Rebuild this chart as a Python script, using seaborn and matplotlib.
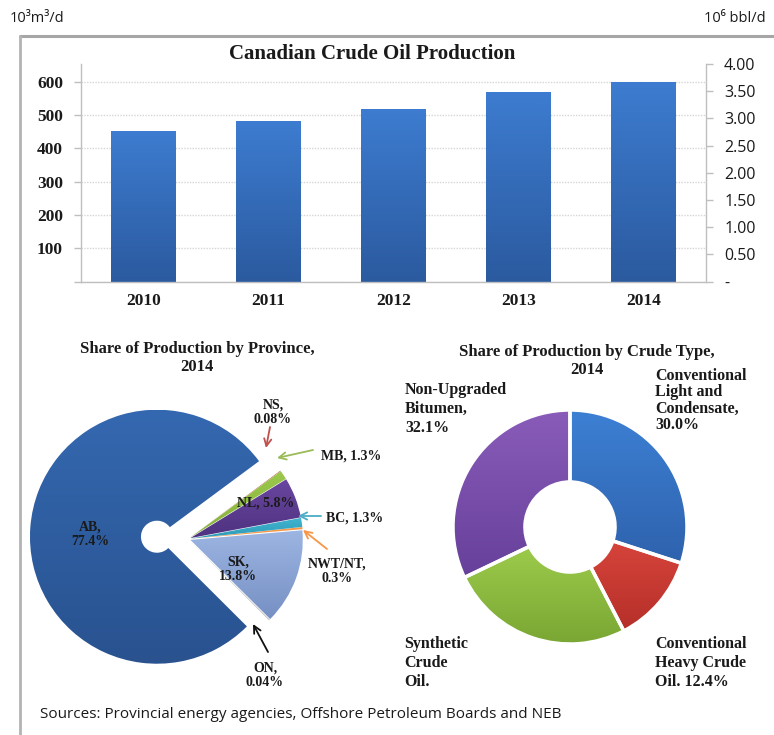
import numpy as np
import pandas as pd
import matplotlib
matplotlib.use("Agg")
import matplotlib.pyplot as plt
import seaborn as sns
from matplotlib.lines import Line2D
from matplotlib.colors import LinearSegmentedColormap

# ---------------- data ----------------
years = ["2010", "2011", "2012", "2013", "2014"]
production = [451, 482, 517, 568, 598]          # 10^3 m3/d
left_ticks = [0, 100, 200, 300, 400, 500, 600]
left_tick_labels = ["", "100", "200", "300", "400", "500", "600"]
right_ticks = [0, 0.5, 1.0, 1.5, 2.0, 2.5, 3.0, 3.5, 4.0]
right_tick_labels = ["-", "0.50", "1.00", "1.50", "2.00", "2.50", "3.00", "3.50", "4.00"]

provinces = ["AB", "ON", "SK", "NWT/NT", "BC", "NL", "MB", "NS"]
province_share = [77.4, 0.04, 13.8, 0.3, 1.3, 5.8, 1.3, 0.08]
province_labels = ["AB,\n77.4%", "ON,\n0.04%", "SK,\n13.8%", "NWT/NT,\n0.3%",
                   "BC, 1.3%", "NL, 5.8%", "MB, 1.3%", "NS,\n0.08%"]

crude_types = ["Conventional Light and Condensate", "Conventional Heavy Crude Oil",
               "Synthetic Crude Oil", "Non-Upgraded Bitumen"]
crude_share = [30.0, 12.4, 25.5, 32.1]
crude_labels = ["Conventional\nLight and\nCondensate,\n30.0%",
                "Conventional\nHeavy Crude\nOil. 12.4%",
                "Synthetic\nCrude\nOil.",
                "Non-Upgraded\nBitumen,\n32.1%"]

# ---------------- style ----------------
sns.set_style("white")
plt.rcParams["font.family"] = ["Liberation Serif", "DejaVu Serif"]
SERIF = ["Liberation Serif", "DejaVu Serif"]
SANS = ["Open Sans", "DejaVu Sans"]
TXT = "#1a1a1a"
GREY = "#bfbfbf"

W, H = 774, 735
fig = plt.figure(figsize=(W / 100, H / 100), dpi=100)
fig.patch.set_facecolor("white")


def fx(x):
    return x / W


def fy(y):
    return 1 - y / H


def gradient_fill(ax, patch, top, bottom):
    cmap = LinearSegmentedColormap.from_list("g", [bottom, top])
    path = patch.get_patch_transform().transform_path(patch.get_path())
    bb = path.get_extents()
    grad = np.linspace(1, 0, 256).reshape(-1, 1)
    im = ax.imshow(grad, cmap=cmap, extent=(bb.x0, bb.x1, bb.y0, bb.y1),
                   origin="upper", aspect="auto", interpolation="bicubic",
                   zorder=patch.get_zorder() + 0.01)
    im.set_clip_path(patch)
    patch.set_facecolor("none")
    patch.set_zorder(patch.get_zorder() + 0.02)


# ---------------- frame lines ----------------
fig.add_artist(Line2D([fx(20), 1], [fy(36), fy(36)], color="#a6a6a6", lw=2.2))
fig.add_artist(Line2D([fx(20), fx(20)], [fy(36), 0], color="#b3b3b3", lw=2.0))

# ---------------- bar chart ----------------
ax = fig.add_axes([fx(81), fy(281.7), fx(706) - fx(81), fy(64) - fy(281.7)])
df = pd.DataFrame({"year": years, "production": production})
sns.barplot(data=df, x="year", y="production", color="#3570bd", width=0.52,
            saturation=1, ax=ax, edgecolor="none")
for p in list(ax.patches):
    gradient_fill(ax, p, "#3d7cd0", "#2b5a9f")
ax.set_xlim(-0.5, 4.5)
ax.set_ylim(0, 653)
ax.set_xlabel("")
ax.set_ylabel("")
ax.set_yticks(left_ticks)
ax.set_yticklabels(left_tick_labels, fontfamily=SERIF, fontweight="bold",
                   fontsize=12.5, color=TXT)
ax.set_xticks(range(len(years)))
ax.set_xticklabels(years, fontfamily=SERIF, fontweight="bold", fontsize=12.5, color=TXT)
ax.set_xticks(np.arange(-0.5, len(years), 1.0), minor=True)
ax.tick_params(axis="x", which="major", length=0, pad=8)
ax.tick_params(axis="x", which="minor", length=5, color=GREY, width=1, direction="out")
ax.tick_params(axis="y", length=5, color=GREY, width=1, direction="out", pad=8)
ax.yaxis.grid(True, color="#d6d6d6", linestyle=(0, (1, 1)), linewidth=1)
ax.set_axisbelow(True)
for s in ["top", "right"]:
    ax.spines[s].set_visible(False)
for s in ["left", "bottom"]:
    ax.spines[s].set_color(GREY)
    ax.spines[s].set_linewidth(1)

tw = ax.twinx()
tw.set_ylim(0, 4.0)
tw.set_yticks(right_ticks)
tw.set_yticklabels(right_tick_labels, fontfamily=SANS, fontsize=11.5, color=TXT)
tw.tick_params(axis="y", length=5, color=GREY, width=1, direction="out", pad=8)
for s in ["top", "left", "bottom"]:
    tw.spines[s].set_visible(False)
tw.spines["right"].set_color(GREY)
tw.spines["right"].set_linewidth(1)

fig.text(fx(372), fy(54), "Canadian Crude Oil Production", ha="center", va="center",
         fontfamily=SERIF, fontweight="bold", fontsize=15, color=TXT)
fig.text(fx(10), fy(18), "10³m³/d", ha="left", va="center", fontfamily=SANS,
         fontsize=10.5, color=TXT)
fig.text(fx(766), fy(18), "10⁶ bbl/d", ha="right", va="center", fontfamily=SANS,
         fontsize=10.5, color=TXT)

# ---------------- province pie ----------------
R1 = 127.0
cx1, cy1 = 188, 539
axp = fig.add_axes([fx(20), fy(700), fx(370) - fx(20), fy(385) - fy(700)])
prov_colors = ["#2d5fa6", "#222222", "#8aa5d6", "#f79646", "#31a9c6", "#5b3a8e",
               "#8fbc3f", "#c0504d"]
prov_grad = {"AB": ("#3468b0", "#29528f"), "SK": ("#9cb5e2", "#7690c4"),
             "NL": ("#6a46a0", "#4e3280"), "MB": ("#9cc84c", "#84b03a"),
             "BC": ("#40b4d0", "#2d9ab6")}
explode = [0.245, 0.02, 0.02, 0.02, 0.02, 0.02, 0.02, 0.02]
wedges, _ = axp.pie(province_share, colors=prov_colors, startangle=36.5,
                    counterclock=True, explode=explode,
                    wedgeprops=dict(linewidth=0))
for name, w in zip(provinces, wedges):
    if name == "AB":
        w.set_width(1 - 16 / R1)
    else:
        w.set_radius(0.885)
for name, w in zip(provinces, wedges):
    if name in prov_grad:
        gradient_fill(axp, w, *prov_grad[name])
axp.set_xlim((20 - cx1) / R1, (370 - cx1) / R1)
axp.set_ylim((cy1 - 700) / R1, (cy1 - 385) / R1)
axp.set_aspect("auto")
axp.axis("off")


def d1(x, y):
    return ((x - cx1) / R1, (cy1 - y) / R1)


lab_pos = {"AB": (90, 534), "SK": (238, 569), "NL": (266, 503), "NS": (273, 412),
           "MB": (351, 456), "BC": (355, 518), "NWT/NT": (337, 571), "ON": (265, 675)}
for name, lab in zip(provinces, province_labels):
    axp.text(*d1(*lab_pos[name]), lab, ha="center", va="center", fontfamily=SERIF,
             fontweight="bold", fontsize=10, color=TXT, linespacing=1.15, zorder=10)

arrows = {"NS": ((270, 427), (266, 448), "#c0504d"),
          "MB": ((313, 450), (277, 458), "#9bbb59"),
          "BC": ((321, 516), (298, 516), "#4bacc6"),
          "NWT/NT": ((327, 549), (303, 530), "#f79646"),
          "ON": ((268, 652), (253, 624), "#111111")}
for name, (tail, tip, c) in arrows.items():
    axp.annotate("", xy=d1(*tip), xytext=d1(*tail),
                 arrowprops=dict(arrowstyle="->", color=c, lw=1.3, mutation_scale=13,
                                 shrinkA=0, shrinkB=0), zorder=10)

fig.text(fx(197), fy(358), "Share of Production by Province,\n2014", ha="center",
         va="center", fontfamily=SERIF, fontweight="bold", fontsize=12, color=TXT)

# ---------------- crude type donut ----------------
R2 = 117.0
cx2, cy2 = 570, 527
axd = fig.add_axes([fx(390), fy(700), 1 - fx(390), fy(385) - fy(700)])
crude_colors = ["#3674c4", "#c93a32", "#8cbb40", "#7a4faa"]
crude_grad = [("#3d80d4", "#2e62ad"), ("#d6443b", "#b52f29"),
              ("#9ccb4b", "#7aa633"), ("#8a5cba", "#66409a")]
dw, _ = axd.pie(crude_share, colors=crude_colors, startangle=90, counterclock=False,
                wedgeprops=dict(width=0.615, edgecolor="white", linewidth=2.5))
for w, g in zip(dw, crude_grad):
    gradient_fill(axd, w, *g)
axd.set_xlim((390 - cx2) / R2, (W - cx2) / R2)
axd.set_ylim((cy2 - 700) / R2, (cy2 - 385) / R2)
axd.set_aspect("auto")
axd.axis("off")


def d2(x, y):
    return ((x - cx2) / R2, (cy2 - y) / R2)


crude_pos = [(655, 400.5, 1.02), (655, 663, 1.25), (404, 663, 1.28), (405, 409, 1.28)]
for lab, (x, y, ls) in zip(crude_labels, crude_pos):
    axd.text(*d2(x, y), lab, ha="left", va="center", fontfamily=SERIF,
             fontweight="bold", fontsize=11.5, color=TXT, linespacing=ls, zorder=10)

fig.text(fx(587), fy(361), "Share of Production by Crude Type,\n2014", ha="center",
         va="center", fontfamily=SERIF, fontweight="bold", fontsize=12, color=TXT)

# ---------------- source ----------------
fig.text(fx(40), fy(715), "Sources: Provincial energy agencies, Offshore Petroleum Boards and NEB",
         ha="left", va="center", fontfamily=SANS, fontsize=11, color=TXT)

fig.savefig("out.png", dpi=100, facecolor="white")
